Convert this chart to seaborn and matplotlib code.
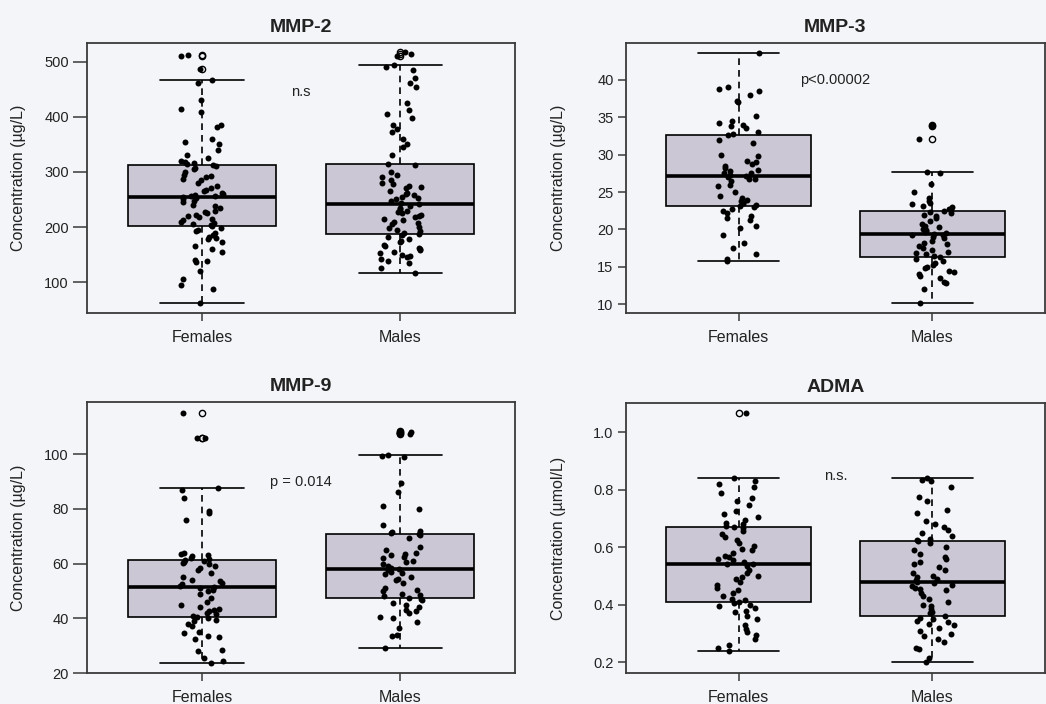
import numpy as np
import pandas as pd
import matplotlib
matplotlib.use("Agg")
import matplotlib.pyplot as plt
import seaborn as sns

# ---------------------------------------------------------------------------
# Data: serum concentrations by sex
# ---------------------------------------------------------------------------
groups = ["Females", "Males"]

mmp2_females = [513, 510, 487, 467, 462, 430, 415, 408, 385, 382, 360, 355, 350,
                340, 330, 325, 320, 318, 316, 314,
                312,
                310, 308, 305, 300, 295, 292, 290, 288, 285, 280, 275, 270, 268,
                265, 262, 260, 258, 257, 256,
                254,
                252, 250, 248, 245, 240, 238, 235, 230, 228, 225, 222, 220, 218,
                215, 212, 210, 207, 205, 203,
                201,
                198, 195, 192, 190, 185, 182, 180, 178, 172, 165, 160, 155, 140,
                138, 136, 120, 105, 95, 88, 63]

mmp2_males = [517, 514, 510, 495, 490, 485, 470, 462, 455, 425, 412, 405, 398,
              385, 378, 372, 360, 350, 345, 330,
              315,
              312, 300, 295, 290, 285, 280, 278, 275, 272, 270, 265, 262, 260,
              258, 255, 252, 250, 247, 244,
              241,
              238, 235, 232, 230, 228, 225, 222, 220, 218, 215, 212, 210, 207,
              205, 200, 198, 195, 192, 190,
              187,
              185, 182, 178, 175, 172, 168, 165, 162, 160, 158, 155, 152, 150,
              148, 145, 142, 138, 135, 125, 116]

mmp3_females = [43.6, 39.0, 38.8, 38.5, 38.0, 37.2, 37.0, 35.2, 34.5, 34.2, 34.0,
                33.8, 33.5, 33.0, 32.8,
                32.6,
                32.0, 31.6, 30.0, 29.8, 29.2, 29.0, 28.8, 28.5, 28.2, 28.0, 27.8,
                27.6, 27.5, 27.3,
                27.2,
                27.0, 26.8, 26.7, 26.5, 26.0, 25.8, 25.0, 24.5, 24.2, 24.0, 23.8,
                23.6, 23.5, 23.3,
                23.2,
                23.0, 22.8, 22.5, 22.2, 21.8, 21.5, 21.3, 20.5, 20.2, 19.3, 18.2,
                17.5, 16.7, 16.0, 15.75]

mmp3_males = [33.9, 33.8, 32.1, 27.7, 27.5, 26.1, 25.0, 24.2, 23.8, 23.6, 23.4,
              23.2, 23.0, 22.8, 22.6,
              22.5,
              22.4, 22.2, 22.0, 21.8, 21.5, 21.2, 20.8, 20.5, 20.3, 20.0, 19.9,
              19.8, 19.6, 19.5,
              19.4,
              19.3, 19.2, 19.0, 18.8, 18.5, 18.2, 18.0, 17.8, 17.5, 17.2, 17.0,
              16.9, 16.7, 16.5,
              16.3,
              16.0, 15.8, 15.5, 15.2, 15.0, 14.8, 14.5, 14.3, 14.0, 13.8, 13.5,
              13.0, 12.8, 12.0, 10.2]

mmp9_females = [115.0, 106.0, 105.8, 87.5, 87.0, 84.0, 79.0, 78.5, 76.0, 64.0,
                63.5, 63.2, 62.8, 62.0, 61.6,
                61.2,
                61.0, 60.5, 60.2, 59.8, 59.0, 58.5, 57.5, 56.5, 55.0, 54.0, 53.5,
                53.0, 52.5, 51.8,
                51.3,
                51.0, 50.5, 50.0, 49.0, 47.5, 46.0, 45.0, 44.0, 43.5, 43.0, 42.5,
                42.0, 41.5, 41.0,
                40.3,
                40.0, 39.5, 39.0, 38.0, 37.0, 35.0, 34.5, 33.5, 33.0, 32.5, 28.5,
                28.0, 25.5, 24.5, 23.6]

mmp9_males = [108.3, 108.0, 107.6, 107.2, 99.6, 99.3, 99.0, 89.5, 86.0, 81.0,
              80.0, 74.0, 72.0, 71.5, 71.0,
              70.8,
              70.5, 69.5, 66.0, 65.0, 64.0, 63.5, 63.0, 62.5, 62.0, 61.0, 60.5,
              60.0, 59.0, 58.5,
              58.0,
              57.5, 57.0, 56.5, 56.0, 55.0, 54.5, 54.0, 53.0, 51.0, 50.5, 50.0,
              49.0, 48.5, 48.0,
              47.5,
              47.0, 46.5, 45.5, 45.0, 44.0, 43.0, 42.5, 42.0, 40.5, 40.0, 38.5,
              36.5, 34.0, 33.5, 29.0]

adma_females = [1.067, 0.840, 0.830, 0.820, 0.810, 0.790, 0.770, 0.760, 0.745,
                0.725, 0.715, 0.705, 0.695, 0.685, 0.680, 0.672,
                0.669,
                0.665, 0.655, 0.645, 0.635, 0.625, 0.615, 0.605, 0.595, 0.590,
                0.580, 0.570, 0.565, 0.560, 0.555, 0.548,
                0.543,
                0.540, 0.535, 0.520, 0.510, 0.500, 0.495, 0.490, 0.480, 0.470,
                0.460, 0.450, 0.440, 0.430, 0.420, 0.415,
                0.411,
                0.405, 0.400, 0.395, 0.390, 0.380, 0.375, 0.360, 0.350, 0.330,
                0.315, 0.305, 0.295, 0.280, 0.260, 0.250, 0.239]

adma_males = [0.840, 0.835, 0.830, 0.810, 0.775, 0.760, 0.730, 0.720, 0.690,
              0.680, 0.670, 0.660, 0.650, 0.640, 0.630, 0.625,
              0.621,
              0.615, 0.600, 0.590, 0.575, 0.565, 0.560, 0.550, 0.540, 0.530,
              0.520, 0.510, 0.500, 0.495, 0.490, 0.485,
              0.479,
              0.475, 0.470, 0.465, 0.460, 0.455, 0.450, 0.440, 0.430, 0.420,
              0.410, 0.400, 0.395, 0.385, 0.375, 0.370,
              0.362,
              0.355, 0.350, 0.345, 0.340, 0.335, 0.330, 0.320, 0.310, 0.300,
              0.290, 0.280, 0.270, 0.250, 0.245, 0.215, 0.200]

titles = ["MMP-2", "MMP-3", "MMP-9", "ADMA"]
y_labels = ["Concentration (µg/L)", "Concentration (µg/L)",
            "Concentration (µg/L)", "Concentration (µmol/L)"]
tick_labels = [["100", "200", "300", "400", "500"],
               ["10", "15", "20", "25", "30", "35", "40"],
               ["20", "40", "60", "80", "100"],
               ["0.2", "0.4", "0.6", "0.8", "1.0"]]
notes = ["n.s", "p<0.00002", "p = 0.014", "n.s."]
note_levels = [446, 39.9, 89.8, 0.847]

# ---------------------------------------------------------------------------
# Style
# ---------------------------------------------------------------------------
sns.set_style("ticks")
plt.rcParams["font.family"] = ["Liberation Sans", "DejaVu Sans"]

BG = "#f4f5f8"
BOX = "#cbc7d5"
INK = "#222222"
FRAME = "#3a3a3a"

np.random.seed(11)

fig = plt.figure(figsize=(10.46, 7.04), dpi=100, facecolor=BG)
rects = [(0.0832, 0.5554, 0.4092, 0.3835),
         (0.5985, 0.5554, 0.4005, 0.3835),
         (0.0832, 0.0440, 0.4092, 0.3850),
         (0.5985, 0.0440, 0.4005, 0.3836)]
ylims = [(44, 534), (8.85, 44.9), (20, 119), (0.163, 1.101)]
series = [(mmp2_females, mmp2_males), (mmp3_females, mmp3_males),
          (mmp9_females, mmp9_males), (adma_females, adma_males)]

for i, (rect, (fem, mal)) in enumerate(zip(rects, series)):
    ax = fig.add_axes(rect)
    ax.set_facecolor(BG)
    df = pd.DataFrame({"group": ["Females"] * len(fem) + ["Males"] * len(mal),
                       "value": list(fem) + list(mal)})

    sns.boxplot(data=df, x="group", y="value", order=groups, ax=ax,
                width=0.75, color=BOX, saturation=1, linecolor="black",
                linewidth=1.2, whis=1.5, capwidths=0.42,
                whiskerprops=dict(linestyle=(0, (4, 3))),
                medianprops=dict(linewidth=2.6),
                flierprops=dict(marker="o", markersize=4.5,
                                markerfacecolor="none",
                                markeredgecolor="black",
                                markeredgewidth=1.0))
    sns.stripplot(data=df, x="group", y="value", order=groups, ax=ax,
                  jitter=0.11, color="black", size=4.3, linewidth=0,
                  zorder=4)

    ax.set_xlim(-0.58, 1.58)
    ax.set_ylim(*ylims[i])
    ax.set_yticks([float(t) for t in tick_labels[i]], tick_labels[i])
    ax.set_xlabel("")
    ax.set_ylabel(y_labels[i], fontsize=11.5, color=INK)
    ax.yaxis.set_label_coords(-0.143, 0.5)
    ax.set_title(titles[i], fontsize=14, fontweight="bold", color=INK, pad=8)

    ax.text(0.5, note_levels[i], notes[i], ha="center", va="center",
            fontsize=10.5, color=INK)

    left_col = i in (0, 2)
    ax.tick_params(axis="x", direction="out", length=6, width=1.1,
                   color=FRAME, labelsize=11.5, labelcolor=INK, pad=6)
    ax.tick_params(axis="y", direction="out", length=10 if left_col else 6,
                   width=1.1, color=FRAME, labelsize=10.5, labelcolor=INK, pad=3)
    for s in ax.spines.values():
        s.set_visible(True)
        s.set_color(FRAME)
        s.set_linewidth(1.3)

fig.savefig("out.png", dpi=100, facecolor=BG)
